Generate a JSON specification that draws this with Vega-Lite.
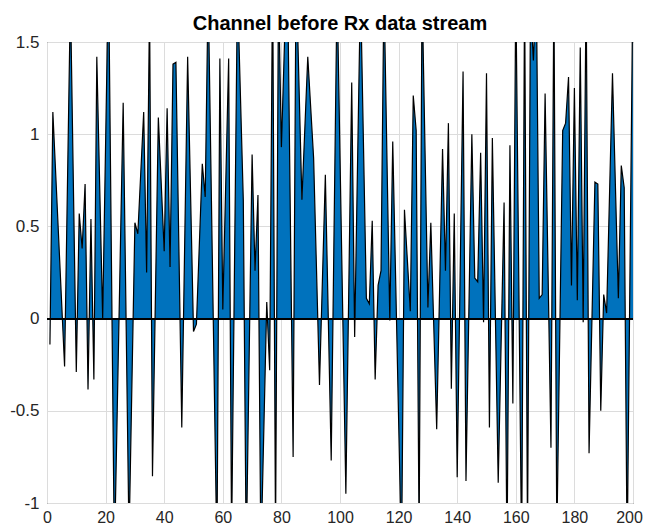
{
  "$schema": "https://vega.github.io/schema/vega-lite/v6.json",
  "width": 586,
  "height": 461,
  "autosize": {"type": "none"},
  "padding": {"left": 47, "top": 42, "right": 13, "bottom": 27},
  "background": "white",
  "config": {
    "view": {"stroke": "#262626", "strokeWidth": 1},
    "font": "Liberation Sans",
    "axis": {
      "domain": false,
      "grid": true,
      "gridColor": "#dcdcdc",
      "gridWidth": 1,
      "ticks": false,
      "labelFont": "Liberation Sans",
      "labelFontSize": 17,
      "labelColor": "#262626",
      "title": null
    }
  },
  "title": {
    "text": "Channel before Rx data stream",
    "fontSize": 20,
    "fontWeight": "bold",
    "font": "Liberation Sans",
    "color": "#000000",
    "anchor": "middle",
    "offset": -1
  },
  "data": {
    "values": [
      {"n": 1, "v": -0.14}, {"n": 2, "v": 1.12}, {"n": 6, "v": -0.26}, {"n": 8, "v": 1.75},
      {"n": 10, "v": -0.29}, {"n": 11, "v": 0.57}, {"n": 12, "v": 0.38}, {"n": 13, "v": 0.73},
      {"n": 14, "v": -0.385}, {"n": 15, "v": 0.54}, {"n": 16, "v": -0.33}, {"n": 17, "v": 1.42},
      {"n": 19, "v": 0.0}, {"n": 21, "v": 1.9}, {"n": 23, "v": -1.3}, {"n": 26, "v": 1.17},
      {"n": 28, "v": -1.2}, {"n": 30, "v": 0.52}, {"n": 31, "v": 0.46}, {"n": 33, "v": 1.12},
      {"n": 34, "v": 0.25}, {"n": 35, "v": 1.7}, {"n": 36, "v": -0.855}, {"n": 38, "v": 1.09},
      {"n": 40, "v": 0.365}, {"n": 41, "v": 1.14}, {"n": 42, "v": 0.28}, {"n": 43, "v": 1.38},
      {"n": 44, "v": 1.39}, {"n": 46, "v": -0.59}, {"n": 48, "v": 1.42}, {"n": 50, "v": -0.07},
      {"n": 51, "v": -0.03}, {"n": 53, "v": 0.84}, {"n": 54, "v": 0.66}, {"n": 55, "v": 1.8},
      {"n": 58, "v": -1.3}, {"n": 59, "v": 1.41}, {"n": 60, "v": 0.05}, {"n": 62, "v": 1.41},
      {"n": 63, "v": -1.2}, {"n": 65, "v": 1.8}, {"n": 67, "v": 0.64}, {"n": 68, "v": -1.3},
      {"n": 70, "v": 0.89}, {"n": 71, "v": 0.26}, {"n": 72, "v": 0.67}, {"n": 73, "v": -1.3},
      {"n": 75, "v": 0.09}, {"n": 76, "v": -0.28}, {"n": 77, "v": 1.9}, {"n": 78, "v": -1.2},
      {"n": 79, "v": 1.8}, {"n": 80, "v": 0.93}, {"n": 82, "v": 2.0}, {"n": 84, "v": -0.75},
      {"n": 85, "v": 1.9}, {"n": 87, "v": 0.645}, {"n": 89, "v": 1.42}, {"n": 91, "v": 0.87},
      {"n": 93, "v": -0.36}, {"n": 95, "v": 0.78}, {"n": 97, "v": -0.77}, {"n": 99, "v": 1.8},
      {"n": 102, "v": -0.95}, {"n": 104, "v": 1.28}, {"n": 105, "v": -0.1}, {"n": 107, "v": 1.8},
      {"n": 109, "v": 0.11}, {"n": 110, "v": 0.08}, {"n": 111, "v": 0.53}, {"n": 112, "v": -0.33},
      {"n": 113, "v": 0.18}, {"n": 114, "v": 0.26}, {"n": 115, "v": 1.8}, {"n": 117, "v": -0.01},
      {"n": 118, "v": 0.96}, {"n": 121, "v": -1.3}, {"n": 122, "v": 0.59}, {"n": 124, "v": 0.04},
      {"n": 125, "v": 1.21}, {"n": 126, "v": 1.02}, {"n": 127, "v": -1.2}, {"n": 128, "v": 1.8},
      {"n": 130, "v": 0.06}, {"n": 131, "v": 0.52}, {"n": 133, "v": -0.6}, {"n": 135, "v": 0.92},
      {"n": 136, "v": 0.26}, {"n": 137, "v": 1.06}, {"n": 138, "v": -0.38}, {"n": 139, "v": 0.57},
      {"n": 140, "v": -0.86}, {"n": 142, "v": 1.34}, {"n": 143, "v": -0.88}, {"n": 145, "v": 1.0},
      {"n": 146, "v": 0.22}, {"n": 147, "v": 0.2}, {"n": 148, "v": 0.9}, {"n": 149, "v": -0.02},
      {"n": 150, "v": 1.33}, {"n": 151, "v": -0.59}, {"n": 152, "v": 0.98}, {"n": 154, "v": -0.89},
      {"n": 156, "v": 0.63}, {"n": 157, "v": -1.3}, {"n": 158, "v": 0.94}, {"n": 159, "v": -0.46},
      {"n": 160, "v": 1.8}, {"n": 162, "v": -1.3}, {"n": 163, "v": 1.8}, {"n": 164, "v": -1.2},
      {"n": 165, "v": 1.7}, {"n": 166, "v": 1.4}, {"n": 167, "v": 1.8}, {"n": 168, "v": 0.11},
      {"n": 169, "v": 0.13}, {"n": 170, "v": 1.22}, {"n": 172, "v": -0.7}, {"n": 173, "v": 1.8},
      {"n": 174, "v": -1.2}, {"n": 176, "v": 1.02}, {"n": 177, "v": 1.06}, {"n": 178, "v": 1.31},
      {"n": 179, "v": 0.18}, {"n": 180, "v": 1.25}, {"n": 181, "v": 0.1}, {"n": 182, "v": 1.47},
      {"n": 183, "v": -0.02}, {"n": 184, "v": 1.8}, {"n": 185, "v": -0.73}, {"n": 187, "v": 0.74},
      {"n": 188, "v": 0.73}, {"n": 189, "v": -0.5}, {"n": 190, "v": 0.13}, {"n": 191, "v": 0.03},
      {"n": 193, "v": 1.33}, {"n": 195, "v": 0.11}, {"n": 196, "v": 0.83}, {"n": 197, "v": 0.71},
      {"n": 198, "v": -1.3}, {"n": 200, "v": 1.9}
    ]
  },
  "encoding": {
    "x": {
      "field": "n",
      "type": "quantitative",
      "scale": {"domain": [0, 200], "nice": false, "zero": false},
      "axis": {
        "values": [0, 20, 40, 60, 80, 100, 120, 140, 160, 180, 200],
        "labelPadding": 6,
        "labelFlush": false,
        "labelFontSize": 16,
        "labelOffset": {"condition": {"test": "datum.value === 200", "value": -4}, "value": 0}
      }
    },
    "y": {
      "field": "v",
      "type": "quantitative",
      "scale": {"domain": [-1, 1.5], "nice": false},
      "axis": {"values": [-1, -0.5, 0, 0.5, 1, 1.5], "labelPadding": 8, "labelFlush": false, "labelExpr": "'' + datum.value"}
    }
  },
  "layer": [
    {
      "mark": {"type": "area", "color": "#0072BD", "opacity": 1, "clip": true},
      "encoding": {"y": {"field": "v", "type": "quantitative", "stack": null}, "y2": {"datum": 0}}
    },
    {
      "mark": {"type": "rule", "color": "#000000", "strokeWidth": 1},
      "encoding": {"y": {"datum": 0}, "x": {"value": 0}, "x2": {"value": 586}}
    },
    {
      "mark": {"type": "line", "color": "#000000", "strokeWidth": 1.2, "clip": true},
      "encoding": {}
    }
  ]
}
